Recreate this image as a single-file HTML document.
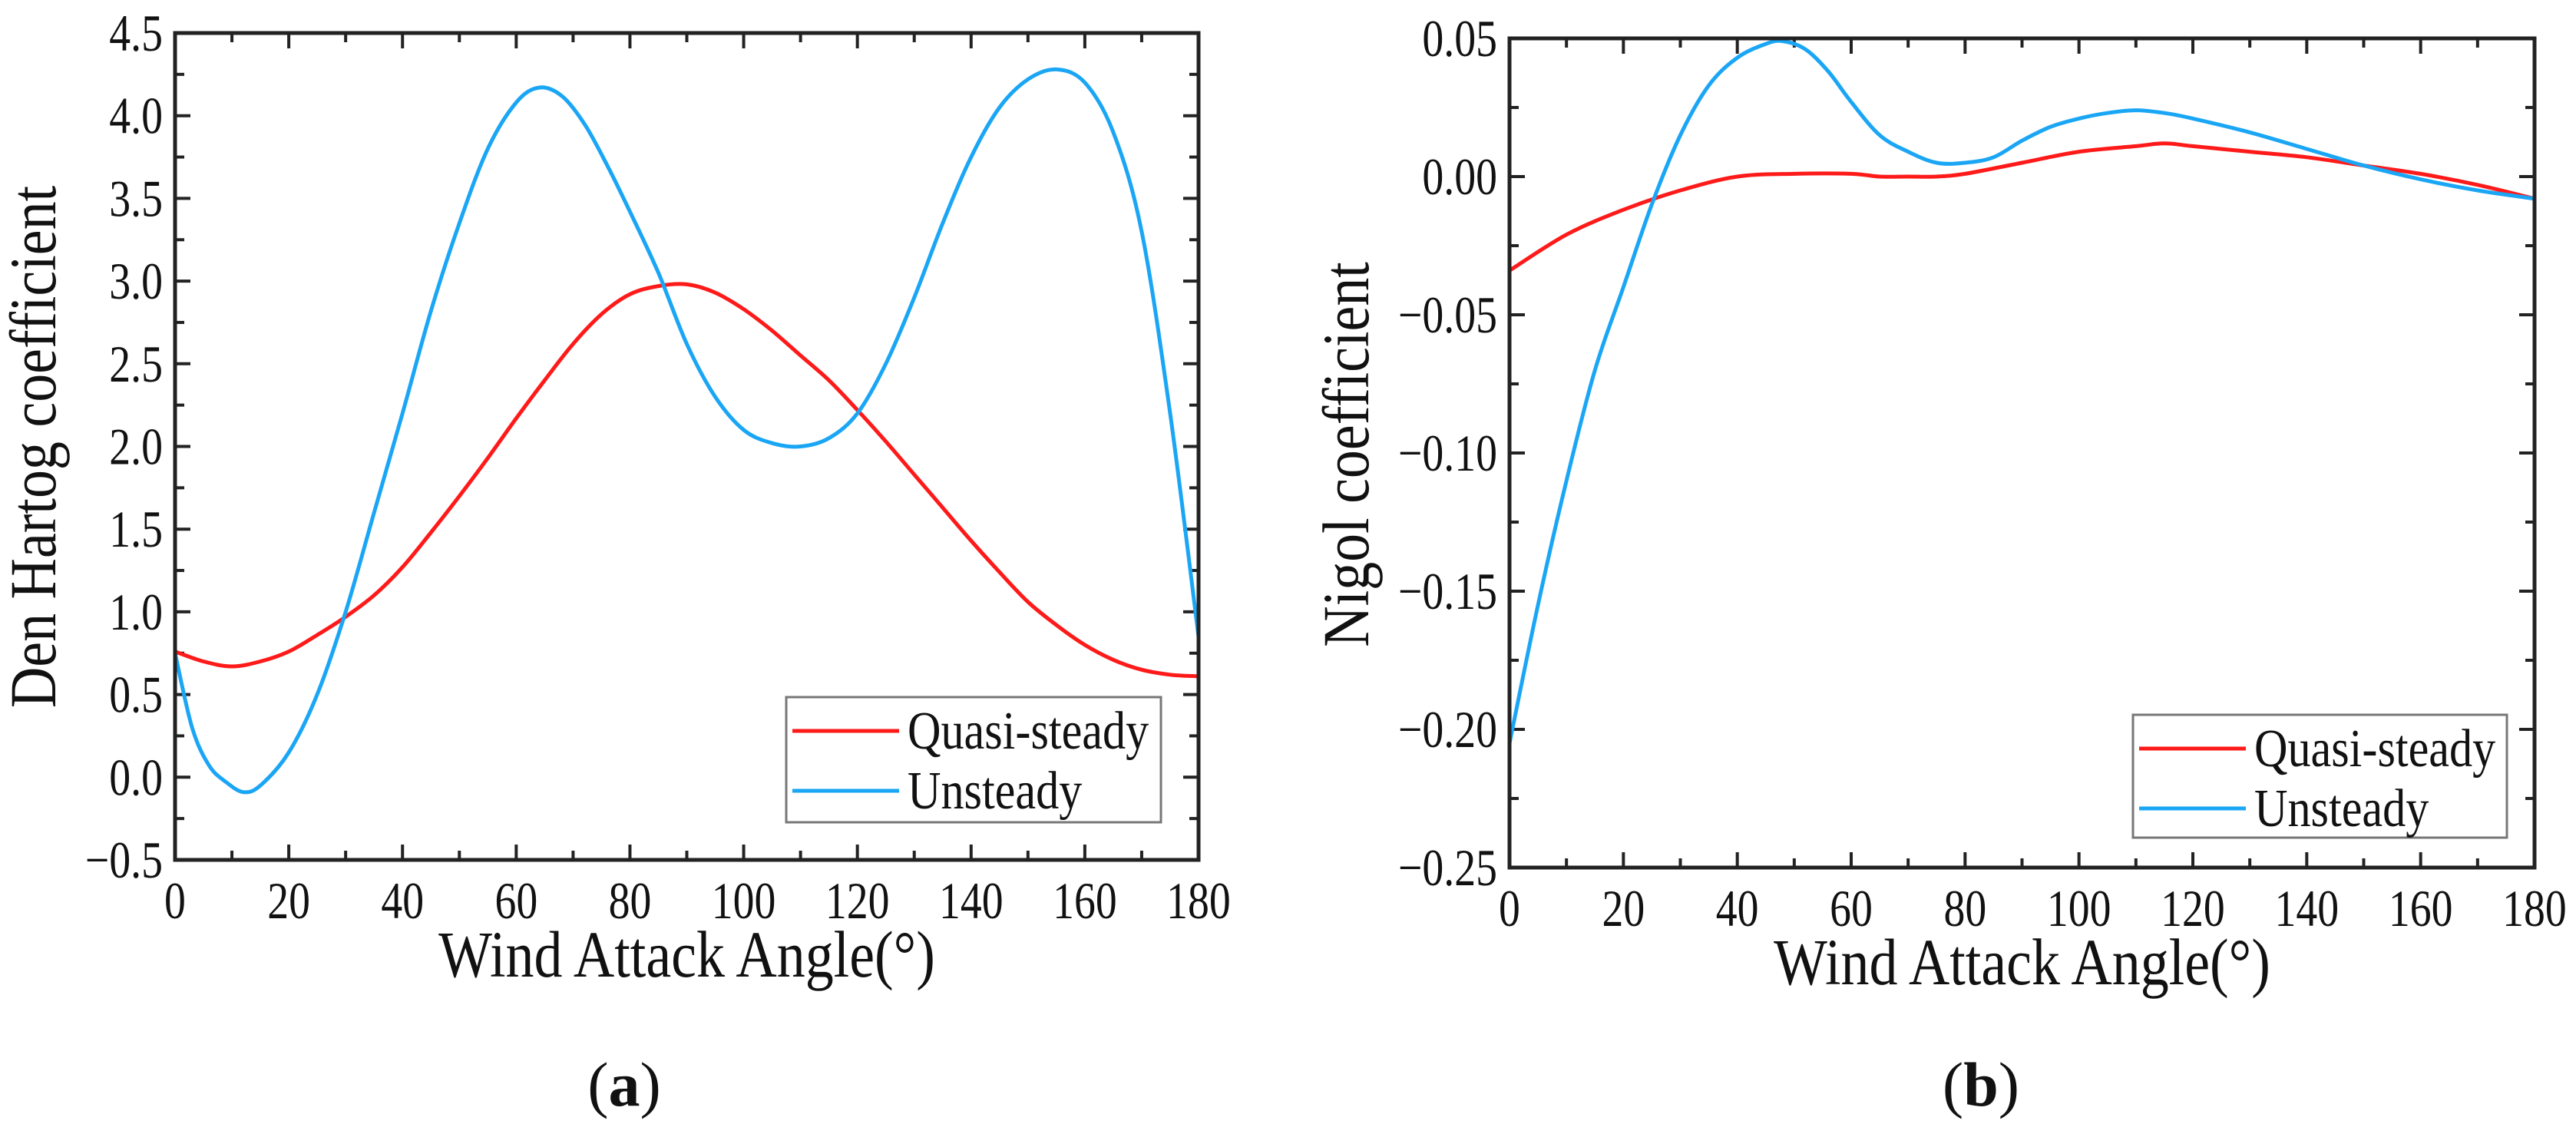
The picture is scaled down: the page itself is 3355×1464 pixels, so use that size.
<!DOCTYPE html>
<html><head><meta charset="utf-8"><style>
html,body{margin:0;padding:0;background:#fff;}
svg{display:block;}
text{font-family:"Liberation Serif",serif;fill:#111;}
</style></head><body>
<svg id="fig" width="3355" height="1464" viewBox="0 0 3355 1464" xmlns="http://www.w3.org/2000/svg"></svg>
<script>
const xTicks = [0,20,40,60,80,100,120,140,160,180];
const aYTicks = [-0.5,0,0.5,1,1.5,2,2.5,3,3.5,4,4.5];
const aYLabels = ["\u22120.5","0.0","0.5","1.0","1.5","2.0","2.5","3.0","3.5","4.0","4.5"];
const aQuasiX = [0,5,10,15,20,25,30,35,40,45,50,55,60,65,70,75,80,85,90,95,100,105,110,115,120,125,130,135,140,145,150,155,160,165,170,175,180];
const aQuasiY = [0.76,0.70,0.67,0.70,0.76,0.86,0.97,1.10,1.27,1.48,1.70,1.93,2.17,2.40,2.62,2.80,2.92,2.97,2.98,2.93,2.83,2.70,2.55,2.40,2.22,2.03,1.83,1.63,1.43,1.24,1.06,0.92,0.80,0.71,0.65,0.62,0.61];
const aUnX = [0,3,6,9,12,15,20,25,30,35,40,45,50,55,60,64,68,72,76,80,85,90,95,100,105,110,115,120,125,130,135,140,145,150,155,160,165,170,175,180];
const aUnY = [0.75,0.30,0.07,-0.03,-0.09,-0.05,0.15,0.50,1.00,1.60,2.20,2.82,3.35,3.80,4.08,4.17,4.12,3.95,3.70,3.42,3.05,2.62,2.30,2.10,2.02,2.00,2.05,2.20,2.50,2.90,3.35,3.75,4.05,4.22,4.28,4.20,3.90,3.30,2.20,0.85];
const bYTicks = [-0.25,-0.2,-0.15,-0.1,-0.05,0,0.05];
const bYLabels = ["\u22120.25","\u22120.20","\u22120.15","\u22120.10","\u22120.05","0.00","0.05"];
const bQuasiX = [0,10,20,30,40,50,60,65,70,75,80,90,100,110,115,120,130,140,150,160,170,180];
const bQuasiY = [-0.034,-0.021,-0.012,-0.005,0,0.001,0.001,0,0,0,0.001,0.005,0.009,0.011,0.012,0.011,0.009,0.007,0.004,0.001,-0.003,-0.008];
const bUnX = [0,5,10,15,20,25,30,35,40,45,48,52,56,60,65,70,75,80,85,90,95,100,105,110,115,120,130,140,150,160,170,180];
const bUnY = [-0.205,-0.155,-0.11,-0.07,-0.04,-0.01,0.015,0.033,0.043,0.048,0.049,0.046,0.038,0.027,0.015,0.009,0.005,0.005,0.007,0.013,0.018,0.021,0.023,0.024,0.023,0.021,0.016,0.010,0.004,-0.001,-0.005,-0.008];

const NS="http://www.w3.org/2000/svg";
const svg=document.getElementById('fig');
function mk(tag,attrs,parent){const e=document.createElementNS(NS,tag);for(const k in attrs)e.setAttribute(k,attrs[k]);(parent||svg).appendChild(e);return e;}
function smooth(pts){let d="M"+pts[0][0]+","+pts[0][1];for(let i=0;i<pts.length-1;i++){const p0=pts[Math.max(0,i-1)],p1=pts[i],p2=pts[i+1],p3=pts[Math.min(pts.length-1,i+2)];const c1x=p1[0]+(p2[0]-p0[0])/6,c1y=p1[1]+(p2[1]-p0[1])/6,c2x=p2[0]-(p3[0]-p1[0])/6,c2y=p2[1]-(p3[1]-p1[1])/6;d+=" C"+c1x.toFixed(1)+","+c1y.toFixed(1)+" "+c2x.toFixed(1)+","+c2y.toFixed(1)+" "+p2[0].toFixed(1)+","+p2[1].toFixed(1);}return d;}

function chart(c){
  const g=mk('g',{});
  
  
  const sx=v=>c.x0+(v-0)/(180-0)*(c.x1-c.x0);
  const sy=v=>c.y1-(v-c.ymin)/(c.ymax-c.ymin)*(c.y1-c.y0);
  for(let v=0;v<=180;v+=10){const X=sx(v);const L=(v%20===0)?20:12;
    const t1=mk('line',{x1:X,y1:c.y1,x2:X,y2:c.y1-L,stroke:'#222','stroke-width':4},g);
    
    mk('line',{x1:X,y1:c.y0,x2:X,y2:c.y0+L,stroke:'#222','stroke-width':4},g);}
  for(let i=0;i<c.yt.length;i++){const v=c.yt[i];const Y=sy(v);
    const t=mk('line',{x1:c.x0,y1:Y,x2:c.x0+20,y2:Y,stroke:'#222','stroke-width':4},g);
    
    mk('line',{x1:c.x1,y1:Y,x2:c.x1-20,y2:Y,stroke:'#222','stroke-width':4},g);
    if(i<c.yt.length-1){const Ym=sy((v+c.yt[i+1])/2);
      mk('line',{x1:c.x0,y1:Ym,x2:c.x0+12,y2:Ym,stroke:'#222','stroke-width':4},g);
      mk('line',{x1:c.x1,y1:Ym,x2:c.x1-12,y2:Ym,stroke:'#222','stroke-width':4},g);}
    const tl=mk('text',{x:c.x0-16,y:Y+23,'text-anchor':'end','font-size':68,transform:`translate(${c.x0-16},0) scale(0.82,1) translate(${-(c.x0-16)},0)`},g);
    tl.textContent=c.yl[i];
    }
  for(const v of xTicks){const X=sx(v);
    const tl=mk('text',{x:X,y:c.y1+76,'text-anchor':'middle','font-size':68,transform:`translate(${X},0) scale(0.82,1) translate(${-X},0)`},g);
    tl.textContent=String(v);
    }
  const series=[[c.qx,c.qy,'#ff1a1a','quasi-steady-line'],[c.ux,c.uy,'#1aa6f5','unsteady-line']];
  for(const s of series){const pts=s[0].map((x,i)=>[sx(x),sy(s[1][i])]);
    const p=mk('path',{d:smooth(pts),fill:'none',stroke:s[2],'stroke-width':5,'stroke-linejoin':'round'},g);
    }
  const fr=mk('rect',{x:c.x0,y:c.y0,width:c.x1-c.x0,height:c.y1-c.y0,fill:'none',stroke:'#222','stroke-width':5},g);
  
  const xt=mk('text',{x:(c.x0+c.x1)/2,y:c.y1+152,'text-anchor':'middle','font-size':86,transform:`translate(${(c.x0+c.x1)/2},0) scale(0.86,1) translate(${-(c.x0+c.x1)/2},0)`},g);
  xt.textContent='Wind Attack Angle(\u00B0)';
  
  const yt=mk('text',{x:0,y:0,'text-anchor':'middle','font-size':86,transform:`translate(${c.ytx},${c.yty}) rotate(-90) scale(0.86,1)`},g);
  yt.textContent=c.ytitle;
  
  const lg=mk('g',{},g);
  
  mk('rect',{x:c.lx,y:c.ly,width:c.lw,height:c.lh,fill:'#fff',stroke:'#777','stroke-width':3},lg);
  const ents=[['Quasi-steady','#ff1a1a'],['Unsteady','#1aa6f5']];
  ents.forEach((e,i)=>{const Y=c.ly+44+i*78;
    const ge=mk('g',{},lg);
    
    mk('line',{x1:c.lx+8,y1:Y,x2:c.lx+147,y2:Y,stroke:e[1],'stroke-width':5},ge);
    const X=c.lx+158;
    const t=mk('text',{x:X,y:Y+23,'font-size':70,transform:`translate(${X},0) scale(0.86,1) translate(${-X},0)`},ge);t.textContent=e[0];});
  const pl=mk('text',{x:c.plx,y:1440,'text-anchor':'middle','font-size':82},g);
  pl.innerHTML='(<tspan font-weight="bold">'+c.panel+'</tspan>)';
  
}
chart({name:'chart-den-hartog',x0:228,x1:1561,y0:43,y1:1120,ymin:-0.5,ymax:4.5,yt:aYTicks,yl:aYLabels,qx:aQuasiX,qy:aQuasiY,ux:aUnX,uy:aUnY,ytitle:'Den Hartog coefficient',ytx:72,yty:582,lx:1024,ly:908,lw:488,lh:163,panel:'a',plx:813});
chart({name:'chart-nigol',x0:1966,x1:3301,y0:50,y1:1130,ymin:-0.25,ymax:0.05,yt:bYTicks,yl:bYLabels,qx:bQuasiX,qy:bQuasiY,ux:bUnX,uy:bUnY,ytitle:'Nigol coefficient',ytx:1782,yty:592,lx:2778,ly:931,lw:487,lh:160,panel:'b',plx:2580});
</script>
</body></html>
